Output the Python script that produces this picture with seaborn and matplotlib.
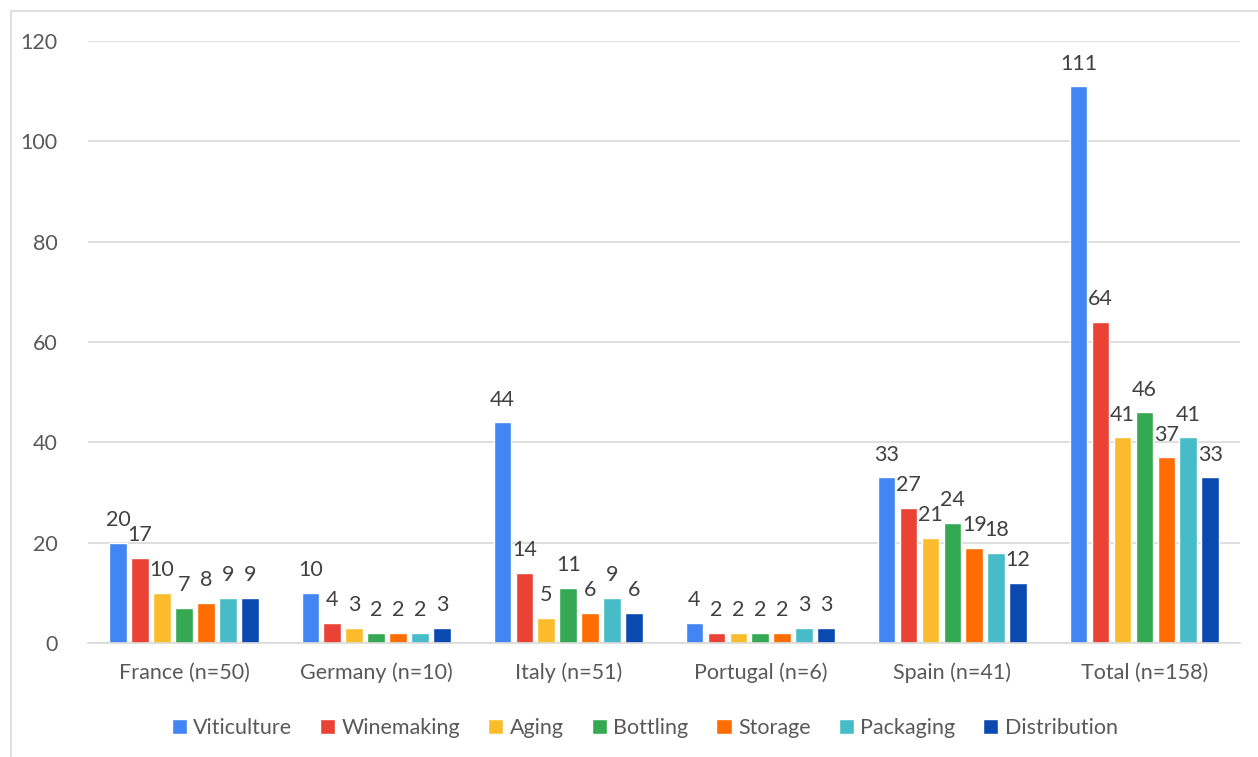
import pandas as pd
import seaborn as sns
import matplotlib.pyplot as plt
from matplotlib.patches import Rectangle

countries = ['France (n=50)', 'Germany (n=10)', 'Italy (n=51)', 'Portugal (n=6)', 'Spain (n=41)', 'Total (n=158)']
stages = ['Viticulture', 'Winemaking', 'Aging', 'Bottling', 'Storage', 'Packaging', 'Distribution']

viticulture = [20, 10, 44, 4, 33, 111]
winemaking = [17, 4, 14, 2, 27, 64]
aging = [10, 3, 5, 2, 21, 41]
bottling = [7, 2, 11, 2, 24, 46]
storage = [8, 2, 6, 2, 19, 37]
packaging = [9, 2, 9, 3, 18, 41]
distribution = [9, 3, 6, 3, 12, 33]

colors = ['#4285F4', '#EA4335', '#FBBC2C', '#34A853', '#FF6D01', '#46BDC6', '#0B49B0']

def main():
    series = [viticulture, winemaking, aging, bottling, storage, packaging, distribution]
    rows = []
    for stage, vals in zip(stages, series):
        for c, v in zip(countries, vals):
            rows.append({'country': c, 'stage': stage, 'count': v})
    df = pd.DataFrame(rows)

    sns.set_style('white')
    plt.rcParams['font.family'] = ['Lato', 'DejaVu Sans']

    fig = plt.figure(figsize=(12.58, 7.57), dpi=100)
    ax = fig.add_axes([0.07, 0.1506, 0.916, 0.7954])

    sns.barplot(data=df, x='country', y='count', hue='stage', hue_order=stages,
                palette=colors, order=countries, width=0.8, gap=0.2,
                saturation=1, ax=ax, legend=True)

    for cont in ax.containers:
        ax.bar_label(cont, fontsize=15.5, color='#404040', padding=9)

    ax.set_ylim(0, 120)
    ax.set_xlim(-0.5, 5.5)
    ax.set_yticks(range(0, 121, 20))
    ax.yaxis.grid(True, color='#d9d9d9', linewidth=1.2)
    ax.set_axisbelow(True)
    for s in ['top', 'right', 'left']:
        ax.spines[s].set_visible(False)
    ax.spines['bottom'].set_color('#d9d9d9')
    ax.spines['bottom'].set_linewidth(1.2)
    ax.tick_params(axis='both', length=0, labelsize=15.5, labelcolor='#595959')
    ax.tick_params(axis='y', pad=22)
    ax.tick_params(axis='x', pad=14)
    ax.set_xlabel('')
    ax.set_ylabel('')

    ax.legend(loc='upper center', bbox_to_anchor=(0.483, -0.093), ncol=7, frameon=False,
              fontsize=15.5, labelcolor='#595959', handlelength=0.7, handleheight=0.7,
              handletextpad=0.3, columnspacing=1.3)

    # outer frame (left and top edges visible)
    fig.patches.append(Rectangle((11 / 1258, -0.1), 1.2, 1 - 11 / 757 + 0.1,
                                 transform=fig.transFigure, fill=False,
                                 edgecolor='#d9d9d9', linewidth=1.2))

    fig.savefig('out.png', dpi=100)

if (__name__ == '__main__'):
    main()
